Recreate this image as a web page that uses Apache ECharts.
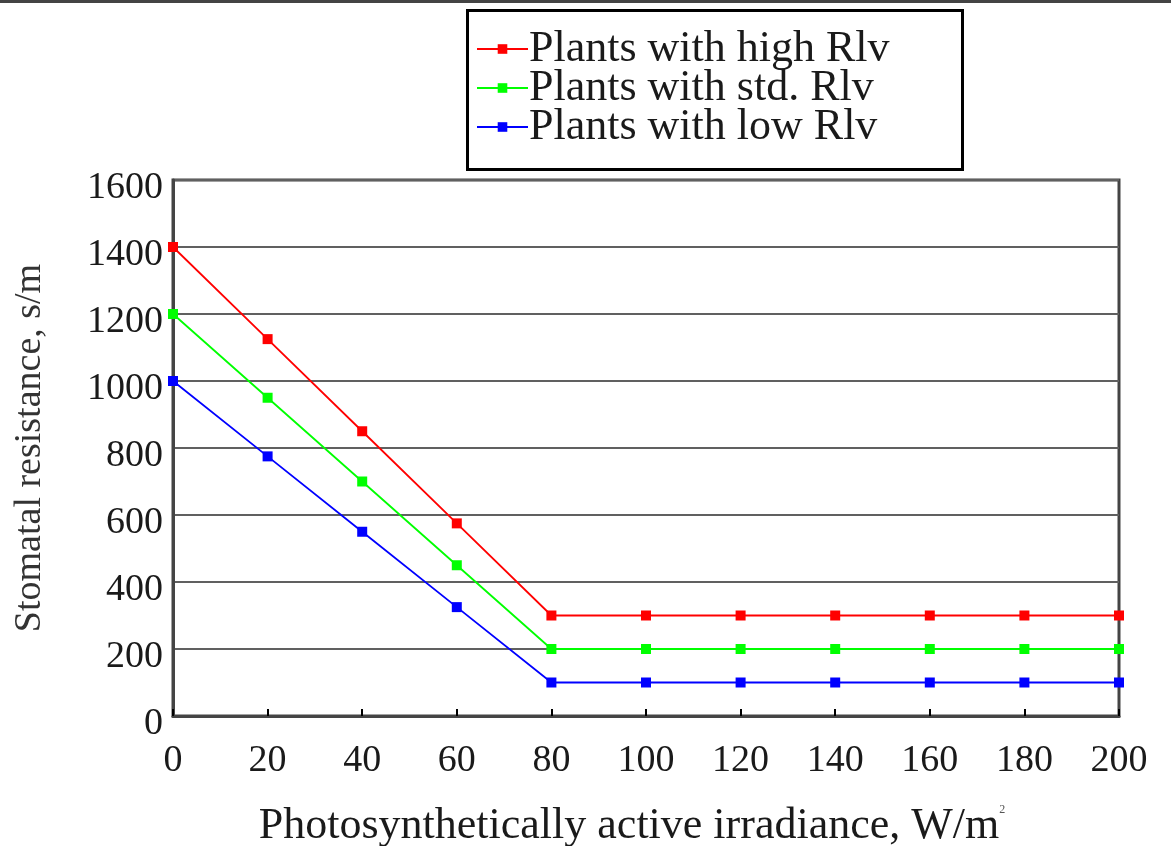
<!DOCTYPE html>
<html>
<head>
<meta charset="utf-8">
<script src="https://cdn.jsdelivr.net/npm/echarts@6/dist/echarts.min.js"></script>
<style>
html,body{margin:0;padding:0;background:#fff;}
#c{width:1171px;height:846px;}
</style>
</head>
<body>
<div id="c"></div>
<script>
var xValues = [0, 20, 40, 60, 80, 100, 120, 140, 160, 180, 200];
var highRlv = [1400, 1125, 850, 575, 300, 300, 300, 300, 300, 300, 300];
var stdRlv  = [1200, 950, 700, 450, 200, 200, 200, 200, 200, 200, 200];
var lowRlv  = [1000, 775, 550, 325, 100, 100, 100, 100, 100, 100, 100];
var seriesNames = ['Plants with high Rlv', 'Plants with std. Rlv', 'Plants with low Rlv'];
var xTitle = 'Photosynthetically active irradiance, W/m';
var yTitle = 'Stomatal resistance, s/m';

function pairs(ys){ return xValues.map(function(x,i){ return [x, ys[i]]; }); }

var FONT = '"Liberation Serif", "Times New Roman", serif';
var chart = echarts.init(document.getElementById('c'), null, {renderer:'canvas'});

function mk(name, ys, color){
  return {
    name: name, type: 'line', data: pairs(ys),
    symbol: 'rect', symbolSize: 10, showSymbol: true,
    lineStyle: {color: color, width: 1.8},
    itemStyle: {color: color},
    animation: false
  };
}

chart.setOption({
  animation: false,
  backgroundColor: '#fff',
  grid: {left: 173, right: 52, top: 180, bottom: 130, show: true, borderColor: '#444', borderWidth: 3,
    containLabel: false, outerBoundsMode: 'none'},
  legend: {
    orient: 'vertical', left: 476, top: 27, padding: 0,
    itemWidth: 51, itemHeight: 12, itemGap: -5,
    data: seriesNames,
    textStyle: {fontFamily: FONT, fontSize: 44, color: '#1a1a1a', padding: [0,0,0,-4]}
  },
  graphic: [
    {type: 'rect', shape: {x: 0, y: 0, width: 1171, height: 3}, style: {fill: '#444'}, silent: true},
    {type: 'rect', shape: {x: 467.5, y: 10.5, width: 495, height: 159}, style: {fill: 'none', stroke: '#000', lineWidth: 3}, silent: true, z: -1}
  ],
  xAxis: {
    type: 'value', min: 0, max: 200, interval: 20,
    name: xTitle + '{sup|2}',
    nameLocation: 'middle', nameGap: 88,
    nameTextStyle: {fontFamily: FONT, fontSize: 44, color: '#1a1a1a', padding: [0, 28, 0, 0],
      rich: {sup: {fontFamily: FONT, fontSize: 12, verticalAlign: 'top', color: '#555', padding: [0,0,24,0]}}},
    axisLine: {show: true, lineStyle: {color: '#444', width: 3}},
    axisTick: {show: true, inside: true, length: 7, lineStyle: {color: '#000', width: 2}},
    axisLabel: {fontFamily: FONT, fontSize: 38, color: '#1a1a1a', margin: 26},
    splitLine: {show: false}
  },
  yAxis: {
    type: 'value', min: 0, max: 1600, interval: 200,
    name: yTitle, nameLocation: 'middle', nameRotate: 90, nameGap: 124,
    nameTextStyle: {fontFamily: FONT, fontSize: 38, color: '#333'},
    axisLine: {show: true, lineStyle: {color: '#444', width: 3}},
    axisTick: {show: false},
    axisLabel: {fontFamily: FONT, fontSize: 38, color: '#1a1a1a', margin: 10,
      verticalAlign: 'top', lineHeight: 16,
      formatter: function(v){ return String(v); }},
    splitLine: {show: true, lineStyle: {color: '#606060', width: 2}}
  },
  series: [
    mk(seriesNames[0], highRlv, '#ff0000'),
    mk(seriesNames[1], stdRlv, '#00ff00'),
    mk(seriesNames[2], lowRlv, '#0000ff')
  ]
});
</script>
</body>
</html>
